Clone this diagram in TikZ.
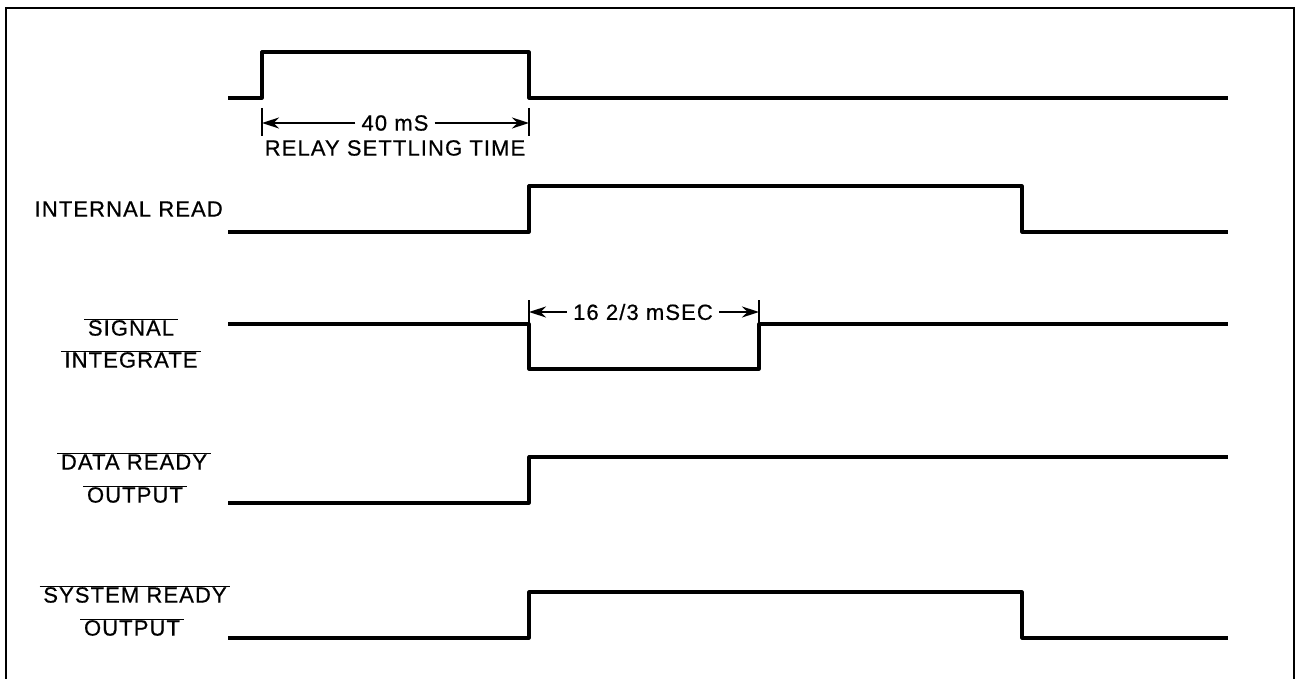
\documentclass[tikz,border=0pt]{standalone}
\usepackage{fontspec}
\setmainfont{Liberation Sans}[LetterSpace=5,FakeBold=0.6]
\usetikzlibrary{arrows.meta}
\newcommand{\olbl}[1]{$\overline{\mbox{\,#1\,}}$}
\begin{document}
\begin{tikzpicture}[x=1pt,y=-1pt,
  wave/.style={line width=3.2pt,line join=round},
  frame/.style={line width=1.8pt},
  tick/.style={line width=1.8pt},
  dimarrow/.style={line width=1.8pt,-{Stealth[length=17pt,width=11pt]}},
  lbl/.style={font=\fontsize{22}{26}\selectfont,inner sep=1pt}]
\useasboundingbox (0,0) rectangle (1299,679);
% frame
\draw[frame] (6,684) -- (6,8) -- (1294,8) -- (1294,684);
% waveform 1: relay
\draw[wave] (228,98) -- (262,98) -- (262,52) -- (529,52) -- (529,98) -- (1228,98);
\coordinate (r1) at (262,123);
\coordinate (r2) at (529,123);
\draw[tick] (262,108) -- (262,136);
\draw[tick] (529,108) -- (529,136);
\node[lbl] (t40) at (395,123) {40 mS};
\draw[dimarrow] (t40.west) ++(-5,0) -- (r1);
\draw[dimarrow] (t40.east) ++(5,0) -- (r2);
\node[lbl] (rst) at (395,148) {RELAY SETTLING TIME};
% internal read
\node[lbl,anchor=east] (lir) at (224,209) {INTERNAL READ};
\draw[wave] (228,232) -- (529,232) -- (529,186) -- (1022,186) -- (1022,232) -- (1228,232);
% signal integrate
\node[lbl] (lsi1) at (131,327) {\olbl{SIGNAL}};
\node[lbl] (lsi2) at (131,359) {\olbl{INTEGRATE}};
\draw[wave] (228,324) -- (529,324) -- (529,369) -- (759,369) -- (759,324) -- (1228,324);
\coordinate (s1) at (529,312);
\coordinate (s2) at (759,312);
\draw[tick] (529,300) -- (529,330);
\draw[tick] (759,300) -- (759,330);
\node[lbl] (t16) at (643,312) {16 2/3 mSEC};
\draw[dimarrow] (t16.west) ++(-5,0) -- (s1);
\draw[dimarrow] (t16.east) ++(5,0) -- (s2);
% data ready output
\node[lbl] (ldr1) at (134,461) {\olbl{DATA READY}};
\node[lbl] (ldr2) at (135,494) {\olbl{OUTPUT}};
\draw[wave] (228,503) -- (529,503) -- (529,457) -- (1228,457);
% system ready output
\node[lbl] (lsr1) at (135,594) {\olbl{SYSTEM READY}};
\node[lbl] (lsr2) at (132,627) {\olbl{OUTPUT}};
\draw[wave] (228,638) -- (529,638) -- (529,592) -- (1022,592) -- (1022,638) -- (1228,638);
\end{tikzpicture}
\end{document}
